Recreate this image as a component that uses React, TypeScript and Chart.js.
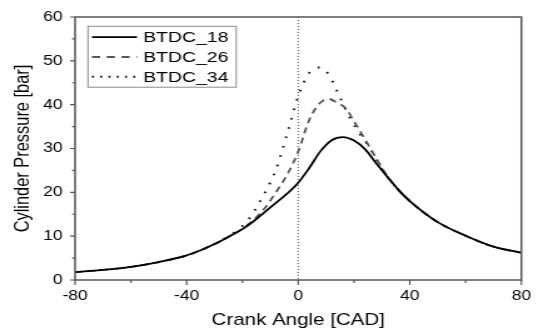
import { useEffect, useRef } from "react";
import { Chart, registerables } from "chart.js";

Chart.register(...registerables);

// ---- data ----
const seriesNames = ["BTDC_18", "BTDC_26", "BTDC_34"];

const angle18 = [-80, -70, -60, -50, -40, -35, -30, -24, -20, -16, -12, -8, -4, 0, 4, 8, 12, 16, 20, 24, 28, 32, 36, 40, 50, 60, 70, 80];
const pressure18 = [1.8, 2.3, 3.0, 4.1, 5.6, 6.8, 8.2, 10.2, 11.6, 13.4, 15.5, 17.6, 19.7, 22.2, 25.6, 29.4, 31.9, 32.6, 31.8, 29.8, 26.6, 23.5, 20.5, 18.0, 13.2, 10.1, 7.6, 6.2];

const angle26 = [-80, -70, -60, -50, -40, -35, -30, -24, -20, -16, -12, -8, -4, 0, 4, 8, 11, 14, 17, 20, 24, 28, 32, 36, 40, 50, 60, 70, 80];
const pressure26 = [1.8, 2.3, 3.0, 4.1, 5.6, 6.8, 8.2, 10.2, 11.7, 13.7, 16.4, 20.0, 24.0, 29.3, 36.6, 40.5, 41.3, 40.4, 39.2, 36.2, 32.0, 27.7, 23.6, 20.5, 18.0, 13.2, 10.1, 7.6, 6.2];

const angle34 = [-80, -70, -60, -50, -40, -35, -30, -24, -20, -17, -14, -10, -8, -6, -3, 0, 4, 8, 11, 14, 18, 22, 26, 30, 36, 40, 50, 60, 70, 80];
const pressure34 = [1.8, 2.3, 3.0, 4.1, 5.6, 6.8, 8.2, 10.4, 12.3, 14.5, 17.6, 22.3, 25.2, 29.0, 35.5, 42.0, 47.3, 48.5, 46.8, 43.0, 37.6, 33.4, 29.8, 25.3, 20.5, 18.0, 13.2, 10.1, 7.6, 6.2];

const xTickValues = [-80, -40, 0, 40, 80];
const xMinorTicks = [-60, -20, 20, 60];
const yTickValues = [0, 10, 20, 30, 40, 50, 60];
const yMinorTicks = [5, 15, 25, 35, 45, 55];

const xTitle = "Crank Angle [CAD]";
const yTitle = "Cylinder Pressure [bar]";

// ---- styling ----
const FONT = '"Liberation Sans", Arial, Helvetica, sans-serif';
const DISPLAY_W = 543;
const DISPLAY_H = 331;
const INTERNAL_W = 434; // canvas drawn narrower then stretched horizontally
const AXIS_COLOR = "#555555";

const seriesStyles = [
  { color: "#000000", width: 1.8, dash: [] as number[], legendDash: [] as number[] },
  { color: "#555555", width: 1.8, dash: [6, 4.5], legendDash: [6.5, 5.3] },
  { color: "#111111", width: 2, dash: [1.6, 8], legendDash: [1.6, 5] },
];

const zip = (xs: number[], ys: number[]) => xs.map((x, i) => ({ x, y: ys[i] }));

const decorPlugin = {
  id: "decor",
  beforeDatasetsDraw(chart: any) {
    const { ctx, chartArea } = chart;
    const x0 = chart.scales.x.getPixelForValue(0);
    ctx.save();
    ctx.strokeStyle = "#222";
    ctx.lineWidth = 0.8;
    ctx.setLineDash([1, 2]);
    ctx.beginPath();
    ctx.moveTo(x0, chartArea.top);
    ctx.lineTo(x0, chartArea.bottom);
    ctx.stroke();
    ctx.restore();
  },
  afterDraw(chart: any) {
    const { ctx, chartArea } = chart;
    const { left, right, top, bottom } = chartArea;
    const xs = chart.scales.x;
    const ys = chart.scales.y;
    ctx.save();
    // frame
    ctx.strokeStyle = AXIS_COLOR;
    ctx.lineWidth = 1.5;
    ctx.setLineDash([]);
    ctx.strokeRect(left, top, right - left, bottom - top);
    // ticks
    ctx.lineWidth = 1.2;
    ctx.beginPath();
    xTickValues.forEach((v) => {
      const p = xs.getPixelForValue(v);
      ctx.moveTo(p, bottom);
      ctx.lineTo(p, bottom + 5);
    });
    xMinorTicks.forEach((v) => {
      const p = xs.getPixelForValue(v);
      ctx.moveTo(p, bottom);
      ctx.lineTo(p, bottom + 3);
    });
    yTickValues.forEach((v) => {
      const p = ys.getPixelForValue(v);
      ctx.moveTo(left, p);
      ctx.lineTo(left - 4, p);
    });
    yMinorTicks.forEach((v) => {
      const p = ys.getPixelForValue(v);
      ctx.moveTo(left, p);
      ctx.lineTo(left - 2.4, p);
    });
    ctx.stroke();

    // legend
    const boxL = 70.3, boxR = 188.8, boxT = 26.3, boxB = 87.2;
    ctx.fillStyle = "#ffffff";
    ctx.fillRect(boxL, boxT, boxR - boxL, boxB - boxT);
    ctx.strokeStyle = "#8a8a8a";
    ctx.lineWidth = 1;
    ctx.strokeRect(boxL, boxT, boxR - boxL, boxB - boxT);
    const rows = [37.2, 57.0, 76.8];
    chart.data.datasets.forEach((ds: any, i: number) => {
      const st = seriesStyles[i];
      const y = rows[i];
      ctx.strokeStyle = st.color;
      ctx.lineWidth = st.width;
      ctx.setLineDash(st.legendDash);
      ctx.beginPath();
      ctx.moveTo(73.5, y);
      ctx.lineTo(109.5, y);
      ctx.stroke();
      ctx.setLineDash([]);
      ctx.fillStyle = "#000";
      ctx.font = `15.5px ${FONT}`;
      ctx.textAlign = "left";
      ctx.textBaseline = "middle";
      ctx.fillText(ds.label, 114.5, y + 0.5);
    });
    ctx.restore();
  },
};

export default function App() {
  const canvasRef = useRef<HTMLCanvasElement | null>(null);

  useEffect(() => {
    const canvas = canvasRef.current;
    if (!canvas) return;
    const datasets = [
      zip(angle18, pressure18),
      zip(angle26, pressure26),
      zip(angle34, pressure34),
    ].map((data, i) => ({
      label: seriesNames[i],
      data,
      borderColor: seriesStyles[i].color,
      borderWidth: seriesStyles[i].width,
      borderDash: seriesStyles[i].dash,
      pointRadius: 0,
      fill: false,
      cubicInterpolationMode: "monotone" as const,
    }));

    const chart = new Chart(canvas, {
      type: "line",
      data: { datasets },
      plugins: [decorPlugin],
      options: {
        animation: false,
        responsive: false,
        devicePixelRatio: 1,
        layout: { padding: { top: 15, right: 17, left: 0, bottom: 0 } },
        plugins: {
          legend: { display: false },
          tooltip: { enabled: false },
        },
        scales: {
          x: {
            type: "linear",
            min: -80,
            max: 80,
            afterBuildTicks: (s: any) => {
              s.ticks = xTickValues.map((v) => ({ value: v }));
            },
            afterFit: (s: any) => {
              s.height = 51;
            },
            grid: { display: false, drawTicks: false },
            border: { display: false },
            ticks: {
              color: "#000",
              font: { family: FONT, size: 14, lineHeight: 1 },
              padding: 9.5,
              maxRotation: 0,
              autoSkip: false,
            },
            title: {
              display: true,
              text: xTitle,
              color: "#000",
              font: { family: FONT, size: 16.4, lineHeight: 1 },
              padding: { top: 0, bottom: 2.8 },
            },
          },
          y: {
            type: "linear",
            min: 0,
            max: 60,
            afterBuildTicks: (s: any) => {
              s.ticks = yTickValues.map((v) => ({ value: v }));
            },
            afterFit: (s: any) => {
              s.width = 60;
            },
            grid: { display: false, drawTicks: false },
            border: { display: false },
            ticks: {
              color: "#000",
              font: { family: FONT, size: 14, lineHeight: 1 },
              padding: 10,
              autoSkip: false,
            },
            title: {
              display: true,
              text: yTitle,
              color: "#000",
              font: { family: FONT, size: 16.4, lineHeight: 1 },
              padding: { top: 10, bottom: 0 },
            },
          },
        },
      },
    });
    return () => chart.destroy();
  }, []);

  return (
    <div style={{ position: "fixed", left: 0, top: 0, width: DISPLAY_W, height: DISPLAY_H, background: "#fff" }}>
      <canvas
        ref={canvasRef}
        width={INTERNAL_W}
        height={DISPLAY_H}
        style={{ width: DISPLAY_W + "px", height: DISPLAY_H + "px", display: "block" }}
      />
    </div>
  );
}
